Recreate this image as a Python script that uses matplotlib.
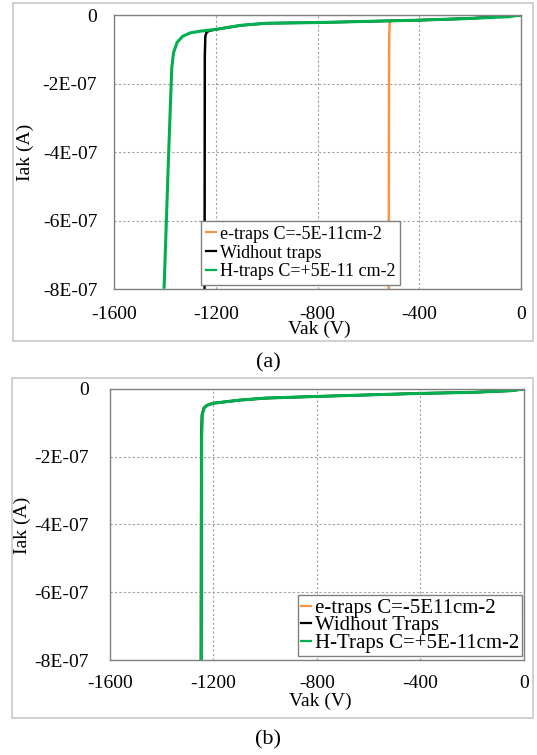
import numpy as np
import matplotlib.pyplot as plt
from matplotlib.patches import Rectangle

plt.rcParams['font.family'] = ['Liberation Serif', 'DejaVu Serif']

# panel (a) curves, V in volts, I in units of 1E-07 A
va_e = [0, -200, -400, -510, -516, -518, -519, -520]
ia_e = [0, -0.10, -0.15, -0.17, -0.22, -0.6, -2.0, -8.0]
va_0 = [0, -200, -400, -800, -1000, -1100, -1200, -1225, -1236, -1241, -1243, -1244]
ia_0 = [0, -0.10, -0.15, -0.22, -0.24, -0.30, -0.42, -0.46, -0.50, -0.62, -1.2, -8.0]
va_h = [0, -50, -200, -400, -800, -1000, -1100, -1200, -1260, -1300, -1330, -1352, -1366, -1373, -1385, -1403]
ia_h = [0, -0.05, -0.10, -0.15, -0.22, -0.24, -0.30, -0.42, -0.47, -0.52, -0.62, -0.80, -1.10, -1.55, -4.0, -7.95]

# panel (b) curves: the three cases nearly overlap
vb_e = [0, -50, -200, -400, -800, -1000, -1100, -1200, -1225, -1238, -1245, -1248, -1249]
ib_e = [0, -0.05, -0.10, -0.13, -0.22, -0.27, -0.33, -0.42, -0.48, -0.56, -0.75, -1.5, -8.0]
vb_0 = [0, -50, -200, -400, -800, -1000, -1100, -1200, -1225, -1237, -1244, -1247, -1248]
ib_0 = [0, -0.05, -0.10, -0.13, -0.22, -0.27, -0.33, -0.42, -0.48, -0.56, -0.75, -1.5, -8.0]
vb_h = [0, -50, -200, -400, -800, -1000, -1100, -1200, -1224, -1236, -1243, -1246, -1247]
ib_h = [0, -0.05, -0.10, -0.13, -0.22, -0.27, -0.33, -0.42, -0.48, -0.56, -0.75, -1.5, -8.0]

xticks = [-1600, -1200, -800, -400, 0]
yticks = [0, -2, -4, -6, -8]
ylabels = ['0', '-2E-07', '-4E-07', '-6E-07', '-8E-07']

labels_a = ['e-traps C=-5E-11cm-2', 'Widhout traps', 'H-traps C=+5E-11 cm-2']
labels_b = ['e-traps C=-5E11cm-2', 'Widhout Traps', 'H-Traps C=+5E-11cm-2']

orange = '#F79646'
black = '#000000'
green = '#00B050'

fig = plt.figure(figsize=(5.37, 7.55), dpi=100)

# grey frames around each panel
fig.patches.append(Rectangle((0.0242, 0.5483), 0.9683, 0.4477, transform=fig.transFigure,
                             fill=False, edgecolor='#c8c8c8', lw=1.2))
fig.patches.append(Rectangle((0.0223, 0.0490), 0.9700, 0.4503, transform=fig.transFigure,
                             fill=False, edgecolor='#c8c8c8', lw=1.2))

ax1 = fig.add_axes([0.2123, 0.6172, 0.7579, 0.3629])
ax2 = fig.add_axes([0.2048, 0.1258, 0.7710, 0.3590])


def style(ax, xpad, ypad):
    ax.set_xlim(-1600, 0)
    ax.set_ylim(-8, 0)
    ax.set_xticks(xticks)
    ax.set_xticklabels([str(t) for t in xticks])
    ax.set_yticks(yticks)
    ax.set_yticklabels(ylabels)
    ax.tick_params(length=0, labelsize=14)
    ax.tick_params(axis='x', pad=xpad)
    ax.tick_params(axis='y', pad=ypad)
    ax.grid(True, color='#a0a0a0', ls=(0, (2, 2)), lw=0.8)
    for s in ax.spines.values():
        s.set_color('#808080')
        s.set_linewidth(1.0)


style(ax1, 12, 12)
ax1.plot(va_e, ia_e, color=orange, lw=1.8, label=labels_a[0])
ax1.plot(va_0, ia_0, color=black, lw=1.8, label=labels_a[1])
ax1.plot(va_h, ia_h, color=green, lw=2.2, label=labels_a[2])
ax1.set_xlabel('Vak (V)', fontsize=14)
ax1.xaxis.set_label_coords(0.504, -0.117)
ax1.set_ylabel('Iak (A)', fontsize=14)
ax1.yaxis.set_label_coords(-0.197, 0.5)
leg = ax1.legend(loc='lower left', bbox_to_anchor=(0.214, 0.015), fontsize=13,
                 handlelength=0.6, handletextpad=0.2, borderpad=0.25, labelspacing=0.1,
                 borderaxespad=0, fancybox=False, framealpha=1)
leg.get_frame().set_edgecolor('#808080')
leg.get_frame().set_linewidth(1.0)
for h in leg.get_lines():
    h.set_linewidth(1.6)

style(ax2, 11, 15)
ax2.plot(vb_e, ib_e, color=orange, lw=1.8, label=labels_b[0])
ax2.plot(vb_0, ib_0, color=black, lw=1.8, label=labels_b[1])
ax2.plot(vb_h, ib_h, color=green, lw=2.2, label=labels_b[2])
ax2.set_xlabel('Vak (V)', fontsize=14)
ax2.xaxis.set_label_coords(0.507, -0.12)
ax2.set_ylabel('Iak (A)', fontsize=14)
ax2.yaxis.set_label_coords(-0.191, 0.498)
leg = ax2.legend(loc='lower right', bbox_to_anchor=(0.995, 0.015), fontsize=15,
                 handlelength=0.5, handletextpad=0.15, borderpad=0.15, labelspacing=-0.1,
                 borderaxespad=0, fancybox=False, framealpha=1)
leg.get_frame().set_edgecolor('#808080')
leg.get_frame().set_linewidth(1.0)
for h in leg.get_lines():
    h.set_linewidth(1.6)

fig.text(0.499, 0.5195, '(a)', ha='center', va='center', fontsize=16)
fig.text(0.499, 0.0205, '(b)', ha='center', va='center', fontsize=16)

fig.savefig('out.png', dpi=100)
